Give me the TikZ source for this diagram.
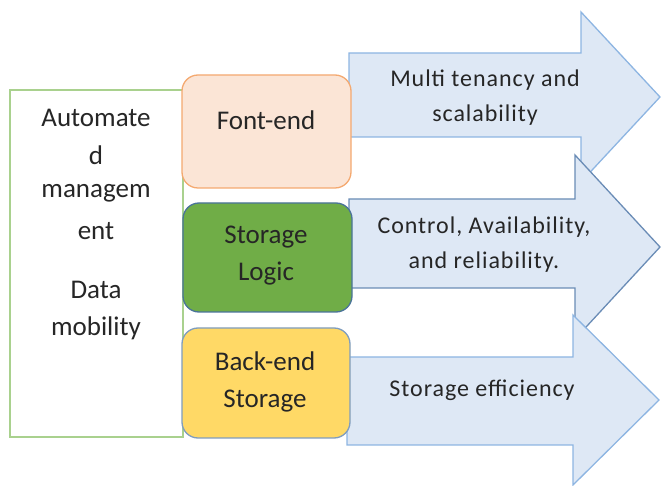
\documentclass[tikz,border=0pt]{standalone}
\usepackage{fontspec}
\setmainfont{Carlito}
\newfontfamily\arrfont[LetterSpace=4]{Carlito}
\definecolor{arrfill}{HTML}{DEE8F5}
\definecolor{arrline}{HTML}{8DB5E2}
\definecolor{arrlinedark}{HTML}{6A8CB6}
\definecolor{frontfill}{HTML}{FBE5D6}
\definecolor{frontline}{HTML}{F4A970}
\definecolor{logicfill}{HTML}{70AD47}
\definecolor{logicline}{HTML}{4A7399}
\definecolor{backfill}{HTML}{FFD966}
\definecolor{backline}{HTML}{7F9DBF}
\definecolor{leftline}{HTML}{A9D18E}
\definecolor{txt}{HTML}{262626}
\tikzset{
  bigarrow/.style={fill=arrfill, draw=arrline, line width=1.3pt, line join=miter},
  layerbox/.style={rounded corners=16pt, line width=1.3pt},
  boxtext/.style={font=\fontsize{27}{37}\selectfont, text=txt, align=center, inner sep=0pt},
  arrtext/.style={font=\arrfont\fontsize{24}{35}\selectfont, text=txt, align=center, inner sep=0pt},
}
\begin{document}
\begin{tikzpicture}[x=1pt,y=-1pt]
\useasboundingbox (0,0) rectangle (662,486);
% arrows
\draw[bigarrow] (349,53) -- (581,53) -- (581,12) -- (660,97) -- (581,182) -- (581,137) -- (349,137) -- cycle;
\draw[bigarrow, draw=arrlinedark] (349,199) -- (575,199) -- (575,155) -- (660,247) -- (575,339) -- (575,288) -- (349,288) -- cycle;
\draw[bigarrow] (347,357) -- (573,357) -- (573,315) -- (659,400) -- (573,485) -- (573,445) -- (347,445) -- cycle;
% left box
\draw[draw=leftline, line width=1.5pt, fill=white] (10,90) rectangle (183,437);
\node[boxtext] (auto) at (96,118) {Automate};
\node[boxtext] (autod) at (96,155) {d};
\node[boxtext] (manag) at (96,193) {managem};
\node[boxtext] (ment) at (96,231) {ent};
\node[boxtext] (data) at (96,290) {Data};
\node[boxtext] (mob) at (96,328) {mobility};
% layer boxes
\draw[layerbox, fill=frontfill, draw=frontline] (182,75) rectangle (351,188);
\node[boxtext] (front) at (266,120) {Font-end};
\draw[layerbox, fill=logicfill, draw=logicline] (183,203) rectangle (352,312);
\node[boxtext] (logic) at (266,256) {Storage\\Logic};
\draw[layerbox, fill=backfill, draw=backline] (182,328) rectangle (350,438);
\node[boxtext] (back) at (265,382) {Back-end\\Storage};
% arrow texts
\node[arrtext] (t1) at (485,98) {Multi tenancy and\\scalability};
\node[arrtext] (t2) at (484,245) {Control, Availability,\\and reliability.};
\node[arrtext] (t3) at (482,390) {Storage efficiency};
\end{tikzpicture}
\end{document}
